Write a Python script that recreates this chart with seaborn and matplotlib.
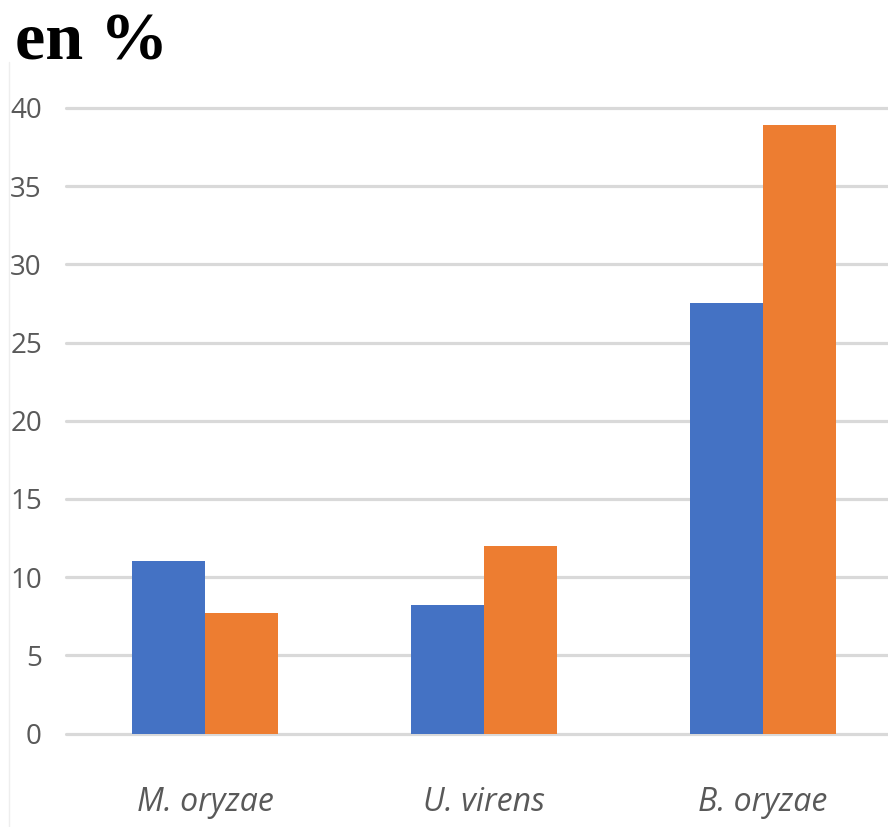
import matplotlib
matplotlib.use("Agg")
import matplotlib.pyplot as plt
from matplotlib.lines import Line2D
import seaborn as sns
import pandas as pd

# Values per species (percent)
categories = ["M. oryzae", "U. virens", "B. oryzae"]
serie_1 = [11.0, 8.2, 27.5]
serie_2 = [7.7, 12.0, 38.9]
y_ticks = [0, 5, 10, 15, 20, 25, 30, 35, 40]

colors = ["#4472C4", "#ED7D31"]

df = pd.DataFrame({
    "espece": categories * 2,
    "valeur": serie_1 + serie_2,
    "serie": ["serie_1"] * len(categories) + ["serie_2"] * len(categories),
})

sns.set_theme(style="white")
plt.rcParams["font.family"] = ["Open Sans", "DejaVu Sans"]

fig = plt.figure(figsize=(8.88, 8.27), dpi=100)
W, H = 888, 827
x0, x1 = 65.5, 902.5
y0, y1 = 733.5, 108.0
ax = fig.add_axes([x0 / W, (H - y0) / H, (x1 - x0) / W, (y0 - y1) / H])

sns.barplot(data=df, x="espece", y="valeur", hue="serie", order=categories,
            palette=colors, saturation=1, width=0.524, gap=0, linewidth=0,
            edgecolor="none", legend=False, ax=ax, errorbar=None)

ax.set_xlim(-0.5, 2.5)
ax.set_ylim(0, 40)
ax.set_yticks(y_ticks)
ax.set_yticklabels([str(t) for t in y_ticks])
for t in y_ticks:
    ax.axhline(t, color="#d9d9d9", lw=2.3, zorder=0, clip_on=False)
ax.grid(False)
for s in ax.spines.values():
    s.set_visible(False)
ax.set_xlabel("")
ax.set_ylabel("")
ax.tick_params(axis="y", length=0, pad=17, labelsize=20, labelcolor="#595959")
ax.tick_params(axis="x", length=0, pad=38, labelsize=23, labelcolor="#595959")
for lab in ax.get_xticklabels():
    lab.set_fontstyle("italic")

# light frame edge on the left
fig.add_artist(Line2D([8.5 / W, 8.5 / W], [0, (H - 62) / H],
                      transform=fig.transFigure, color="#eeeeee", lw=1))

fig.text(15 / W, (H - 60) / H, "en %", family=["Liberation Serif", "DejaVu Serif"],
         fontweight="bold", fontsize=49, color="black", ha="left", va="baseline")

fig.savefig("out.png", dpi=100)
